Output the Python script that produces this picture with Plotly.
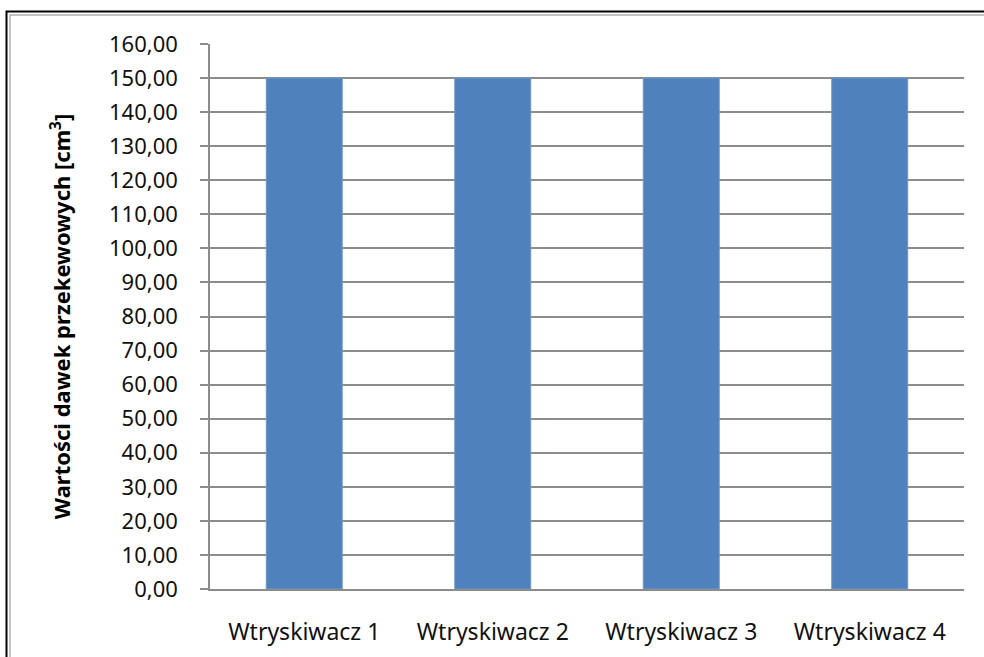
import plotly.graph_objects as go

categories = ["Wtryskiwacz 1", "Wtryskiwacz 2", "Wtryskiwacz 3", "Wtryskiwacz 4"]
values = [150.0, 150.0, 150.0, 150.0]
y_ticks = [0, 10, 20, 30, 40, 50, 60, 70, 80, 90, 100, 110, 120, 130, 140, 150, 160]
y_title = "Wartości dawek przekewowych [cm<sup>3</sup>]"

FONT = "Noto Sans"
GRID = "#8c8c8c"

fig = go.Figure(go.Bar(
    x=categories, y=values,
    marker=dict(color="#4f81bd", line=dict(color="#6f97c8", width=1)),
))

L, R, T, B = 210, 20, 44, 68
W, H = 984, 657
pw = W - L - R
ph = H - T - B

def px_x(p):
    return (p - L) / pw

def px_y(p):
    return (H - B - p) / ph

shapes = [
    dict(type="rect", xref="paper", yref="paper",
         x0=px_x(6.5), x1=px_x(1100), y0=px_y(11.5), y1=px_y(720),
         line=dict(color="#000000", width=2), fillcolor="rgba(0,0,0,0)", layer="below"),
    dict(type="rect", xref="paper", yref="paper",
         x0=px_x(10), x1=px_x(1100), y0=px_y(15), y1=px_y(720),
         line=dict(color="#b0b0b0", width=1.5), fillcolor="rgba(0,0,0,0)", layer="below"),
]

fig.update_layout(
    width=W, height=H,
    margin=dict(l=L, r=R, t=T, b=B, pad=0, autoexpand=False),
    paper_bgcolor="white", plot_bgcolor="white",
    separators=", ",
    bargap=0.597,
    showlegend=False,
    shapes=shapes,
    font=dict(family=FONT, color="#111111", size=22),
)

fig.update_yaxes(
    automargin=False,
    range=[0, 160], tickvals=y_ticks, tickformat=".2f",
    showgrid=True, gridcolor=GRID, gridwidth=1.5,
    showline=True, linecolor=GRID, linewidth=1.5,
    ticks="outside", ticklen=8, tickcolor=GRID, tickwidth=1.5,
    ticklabelstandoff=18,
    tickfont=dict(family=FONT, size=22, color="#111111"),
    zeroline=False,
    title=dict(text=y_title, font=dict(family=FONT, size=22, color="#000000", weight="bold"), standoff=32),
)

fig.update_xaxes(
    automargin=False,
    showgrid=False,
    showline=True, linecolor=GRID, linewidth=1.5,
    ticks="", ticklabelstandoff=22,
    tickfont=dict(family=FONT, size=23, color="#111111"),
)

fig.write_html("out.html")
